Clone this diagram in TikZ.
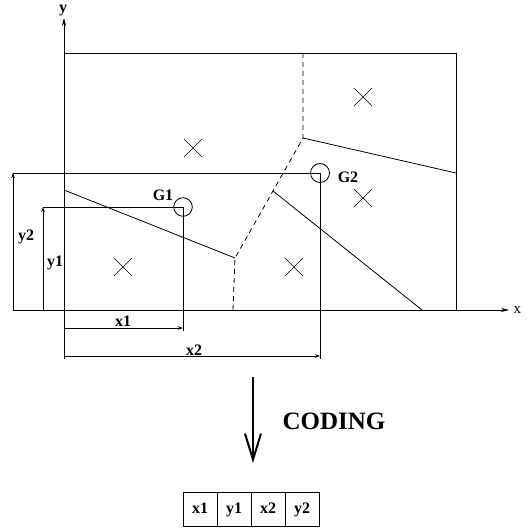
\documentclass[tikz,border=0pt]{standalone}
\usepackage{fontspec}
\setmainfont{Liberation Serif}
\usetikzlibrary{arrows.meta,positioning}
\tikzset{
  lbl/.style={font=\bfseries\fontsize{16}{16}\selectfont},
  dim/.style={-{Stealth[length=5pt,width=3.5pt]}},
  axis/.style={-{Stealth[length=8pt,width=4pt]}},
  cell/.style={draw,minimum size=34pt,inner sep=0pt,outer sep=0pt,lbl,
    text height=11pt,text depth=3pt}
}
\begin{document}
\begin{tikzpicture}[x=1pt,y=-1pt,line width=0.8pt]
\useasboundingbox (0,0) rectangle (527,529);
% axes
\coordinate (ytip) at (64,18);
\coordinate (xtip) at (509,310);
\draw[axis] (64,359) -- (ytip);
\draw[axis] (13,310) -- (xtip);
\node[lbl] (ylab) at (63,11) {y};
\node[font=\fontsize{15}{15}\selectfont,right=1pt of xtip] (xlab) {x};
% the image and its regions
\draw (64,53) rectangle (456,310);
\coordinate (P) at (235,258);
\coordinate (Q) at (303,138);
\draw (64,190) -- (P);
\begin{scope}[dash pattern=on 5pt off 4pt]
\draw (233,310) -- (P) -- (Q) -- (303,53);
\end{scope}
\draw (Q) -- (456,173);
\draw (273,191) -- (422,310);
% region centres
\foreach \p in {(193,148),(363,97),(363,198),(294,267),(123,267)}
  \draw[line width=0.6pt] \p +(-9,-9) -- +(9,9) \p +(-9,9) -- +(9,-9);
% G1 and G2
\coordinate (G1) at (183,207);
\coordinate (G2) at (320,173);
\draw (G1) circle (9.3);
\draw (G2) circle (9.5);
\node[lbl] (g1lab) at (163,195) {G1};
\node[lbl] (g2lab) at (348,177) {G2};
% coordinates of G1
\draw (43,207) -- (G1) -- (183,331);
\draw[dim] (43,310) -- (43,207);
\draw[dim] (64,328) -- (183,328);
\node[lbl] (y1lab) at (55,263) {y1};
\node[lbl] (x1lab) at (123,321) {x1};
% coordinates of G2
\draw (13,173) -- (G2) -- (320,359);
\draw[dim] (13,310) -- (13,173);
\draw[dim] (64,356) -- (320,356);
\node[lbl] (y2lab) at (26,237) {y2};
\node[lbl] (x2lab) at (194,350) {x2};
% coding
\draw[line width=2pt,-{Straight Barb[length=26pt,width=16pt]}] (253,377) -- (253,463);
\node[font=\bfseries\fontsize{25}{25}\selectfont] (coding) at (334,421) {CODING};
\node[cell] (c1) at (200.2,509) {x1};
\node[cell,right=0pt of c1] (c2) {y1};
\node[cell,right=0pt of c2] (c3) {x2};
\node[cell,right=0pt of c3] (c4) {y2};
\end{tikzpicture}
\end{document}
